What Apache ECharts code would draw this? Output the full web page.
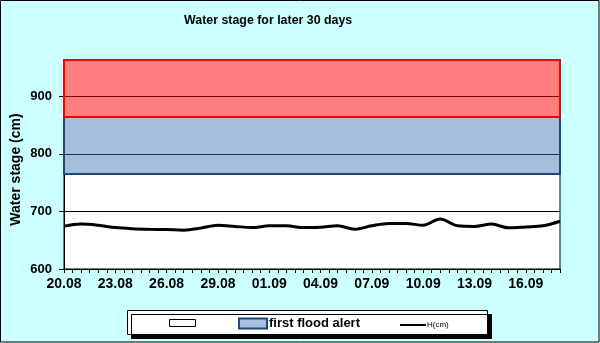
<!DOCTYPE html>
<html>
<head>
<meta charset="utf-8">
<script src="https://cdn.jsdelivr.net/npm/echarts@6/dist/echarts.min.js"></script>
<style>
html,body{margin:0;padding:0;background:#CCFFFF;}
#chart{width:600px;height:343px;}
</style>
</head>
<body>
<div id="chart"></div>
<script>
// ---- data ----
var days = ['20.08','21.08','22.08','23.08','24.08','25.08','26.08','27.08','28.08','29.08',
            '30.08','31.08','01.09','02.09','03.09','04.09','05.09','06.09','07.09','08.09',
            '09.09','10.09','11.09','12.09','13.09','14.09','15.09','16.09','17.09','18.09'];
var waterStage = [674,678,676,672,670,669,668.5,667.5,671,676,
                  674,672,675,675,672,672.5,675,669,675,679,
                  679,676,687,675,674,678,671.5,673,675,683];
var bandBase = 765;      // bottom of first flood alert band
var firstAlert = 864;    // top of first flood alert / bottom of second band
var secondAlert = 963;   // top of second band
var yTicks = {min: 600, max: 963, interval: 100};
var seriesNames = [' ', 'first flood alert', 'H(cm)', 'second flood alert'];

// half-day slots on the x axis (ticks every 12 hours)
var cats = [];
var lineData = [];
for (var i = 0; i < days.length; i++) {
  cats.push(days[i]);
  lineData.push(waterStage[i]);
  if (i < days.length - 1) {
    cats.push(days[i] + ' 12h');
    lineData.push(null);
  }
}

var chart = echarts.init(document.getElementById('chart'));
var boldFont = 'Liberation Sans, Arial, sans-serif';

chart.setOption({
  backgroundColor: '#CCFFFF',
  animation: false,
  title: {
    text: 'Water stage for later 30 days',
    left: 184, top: 15, padding: 0,
    textStyle: {fontFamily: boldFont, fontWeight: 'bold', fontSize: 12.4, color: '#000'}
  },
  graphic: [
    {type: 'rect', z: 0, shape: {x: 0.5, y: 0.5, width: 598.5, height: 341.5},
     style: {fill: 'none', stroke: '#000', lineWidth: 1}},
    {type: 'rect', z: 0, shape: {x: 127.5, y: 310.5, width: 360, height: 24},
     style: {fill: '#fff', stroke: '#000', lineWidth: 1,
             shadowColor: '#000', shadowOffsetX: 4, shadowOffsetY: 4, shadowBlur: 0}}
  ],
  legend: [
    {left: 169, top: 319, padding: 0, itemWidth: 26, itemHeight: 7, itemGap: 0,
     data: [{name: seriesNames[0], icon: 'rect',
             itemStyle: {color: '#fff', borderColor: '#000', borderWidth: 1}}],
     formatter: function () { return ''; },
     selectedMode: false},
    {left: 238, top: 317, padding: 0, itemWidth: 28, itemHeight: 10, itemGap: 0,
     data: [{name: seriesNames[1], icon: 'rect',
             itemStyle: {color: '#A7BEDC', borderColor: '#1F497D', borderWidth: 2}}],
     textStyle: {fontFamily: boldFont, fontWeight: 'bold', fontSize: 13, color: '#000', padding: [0,0,0,-3]},
     selectedMode: false},
    {left: 400, top: 321, padding: 0, itemWidth: 26, itemHeight: 2, itemGap: 0,
     data: [{name: seriesNames[2], icon: 'rect', itemStyle: {color: '#000'}}],
     textStyle: {fontFamily: boldFont, fontSize: 8, color: '#000', padding: [0,0,0,-4]},
     selectedMode: false}
  ],
  grid: {left: 64, right: 40, top: 60, bottom: 74, show: true, outerBoundsMode: 'none',
         containLabel: false,
         backgroundColor: '#fff', borderColor: '#000', borderWidth: 1},
  xAxis: {
    type: 'category', boundaryGap: false, data: cats,
    axisLine: {lineStyle: {color: '#000', width: 1}},
    axisTick: {interval: 0, length: 4, lineStyle: {color: '#000'}},
    axisLabel: {interval: 5, margin: 8, color: '#000',
                fontFamily: boldFont, fontWeight: 'bold', fontSize: 14,
                formatter: function (v) { return v.split(' ')[0]; }},
    splitLine: {show: false}
  },
  yAxis: {
    type: 'value', min: yTicks.min, max: yTicks.max, interval: yTicks.interval,
    name: 'Water stage (cm)', nameLocation: 'middle', nameGap: 41, nameMoveOverlap: false,
    nameTextStyle: {fontFamily: boldFont, fontWeight: 'bold', fontSize: 14, color: '#000',
                    padding: [0, 10, 0, 0]},
    axisLine: {show: true, lineStyle: {color: '#000'}},
    axisTick: {show: true, length: 5, lineStyle: {color: '#000'}},
    axisLabel: {showMaxLabel: false, margin: 12, color: '#000',
                fontFamily: boldFont, fontWeight: 'bold', fontSize: 13},
    splitLine: {show: true, lineStyle: {color: '#000', width: 1}}
  },
  series: [
    {name: seriesNames[0], type: 'line', data: [], itemStyle: {color: '#fff'}},
    {name: seriesNames[1], type: 'line', data: [], itemStyle: {color: '#A7BEDC'},
     markArea: {silent: true,
       itemStyle: {color: 'rgba(58,111,177,0.45)', borderColor: '#1F497D', borderWidth: 2},
       data: [[{yAxis: bandBase}, {yAxis: firstAlert}]]}},
    {name: seriesNames[3], type: 'line', data: [], itemStyle: {color: '#FF8080'},
     markArea: {silent: true,
       itemStyle: {color: 'rgba(255,0,0,0.5)', borderColor: '#FF0000', borderWidth: 2},
       data: [[{yAxis: firstAlert}, {yAxis: secondAlert}]]}},
    {name: seriesNames[2], type: 'line', data: lineData, connectNulls: true,
     smooth: 0.35, showSymbol: false, symbol: 'none', z: 5,
     lineStyle: {color: '#000', width: 3}, itemStyle: {color: '#000'}}
  ]
});
</script>
</body>
</html>
